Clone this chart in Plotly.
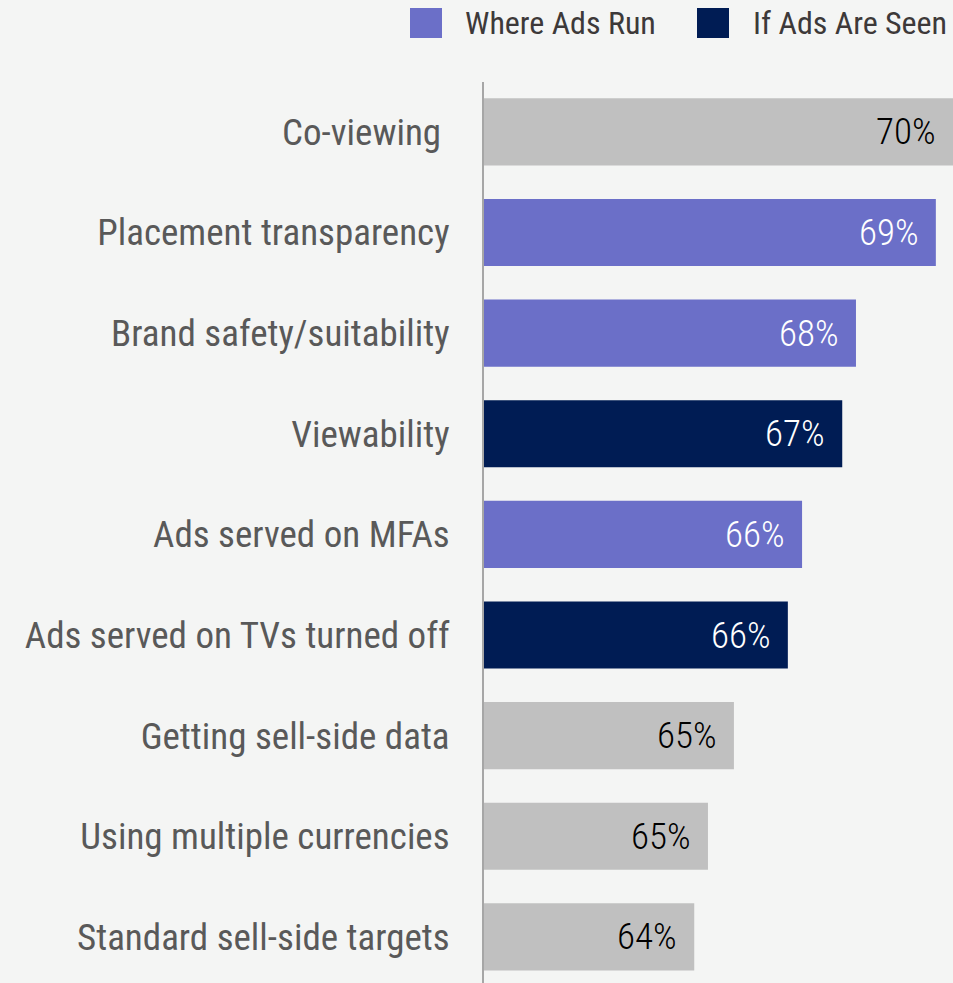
import plotly.graph_objects as go

# Share of respondents citing each measurement concern
categories = [
    "Co-viewing\u00a0",
    "Placement transparency",
    "Brand safety/suitability",
    "Viewability",
    "Ads served on MFAs",
    "Ads served on TVs turned off",
    "Getting sell-side data",
    "Using multiple currencies",
    "Standard sell-side targets",
]
shares = [69.55, 69.20, 67.57, 67.29, 66.47, 66.18, 65.08, 64.55, 64.27]
groups = [
    "Other",
    "Where Ads Run",
    "Where Ads Run",
    "If Ads Are Seen",
    "Where Ads Run",
    "If Ads Are Seen",
    "Other",
    "Other",
    "Other",
]
legend_groups = ["Where Ads Run", "If Ads Are Seen"]

bar_colors = {"Other": "#C0C0C0", "Where Ads Run": "#6B6FC8", "If Ads Are Seen": "#001C54"}
text_colors = {"Other": "#000000", "Where Ads Run": "#FFFFFF", "If Ads Are Seen": "#FFFFFF"}

FONT = "Roboto Condensed, Liberation Sans Narrow, Arial Narrow, DejaVu Sans Condensed, Roboto, sans-serif"
BG = "#F4F5F4"

W, H = 953, 983
ML, MR, MT, MB = 484, 0, 82, 0
plot_w, plot_h = W - ML - MR, H - MT - MB


def px_x(px):
    return (px - ML) / plot_w


def px_y(py):
    return (H - MB - py) / plot_h


fig = go.Figure()
fig.add_trace(
    go.Bar(
        y=categories,
        x=shares,
        orientation="h",
        width=0.667,
        marker=dict(color=[bar_colors[g] for g in groups], line=dict(width=0)),
        showlegend=False,
        hoverinfo="skip",
    )
)

annotations = []
for cat, val, grp in zip(categories, shares, groups):
    annotations.append(
        dict(
            x=val,
            y=cat,
            xref="x",
            yref="y",
            text=f"{val:.0f}%",
            showarrow=False,
            xanchor="right",
            yanchor="middle",
            xshift=-15,
            font=dict(family=FONT, size=37, color=text_colors[grp], weight=300),
        )
    )

# Legend: colour swatches with their labels across the top
shapes = []
swatch_left = [410, 697]
label_left = [463, 751]
for name, sx, lx in zip(legend_groups, swatch_left, label_left):
    shapes.append(
        dict(
            type="rect",
            xref="paper",
            yref="paper",
            x0=px_x(sx),
            x1=px_x(sx + 32),
            y0=px_y(38),
            y1=px_y(8),
            fillcolor=bar_colors[name],
            line=dict(width=0),
        )
    )
    annotations.append(
        dict(
            x=px_x(lx),
            y=px_y(23),
            xref="paper",
            yref="paper",
            text=name,
            showarrow=False,
            xanchor="left",
            yanchor="middle",
            font=dict(family=FONT, size=32, color="#3D3939"),
        )
    )

fig.update_layout(
    width=W,
    height=H,
    margin=dict(l=ML, r=MR, t=MT, b=MB, pad=0),
    paper_bgcolor=BG,
    plot_bgcolor=BG,
    bargap=0.333,
    showlegend=False,
    shapes=shapes,
    annotations=annotations,
    xaxis=dict(
        visible=False,
        range=[59.98, 69.55],
        fixedrange=True,
    ),
    yaxis=dict(
        type="category",
        categoryorder="array",
        categoryarray=categories,
        range=[8.458, -0.495],
        autorange=False,
        showline=True,
        linecolor="#A6A6A6",
        linewidth=2,
        ticks="",
        showgrid=False,
        zeroline=False,
        automargin=False,
        ticklabelstandoff=25,
        tickfont=dict(family=FONT, size=37, color="#595959"),
    ),
)

fig.write_html("out.html")
